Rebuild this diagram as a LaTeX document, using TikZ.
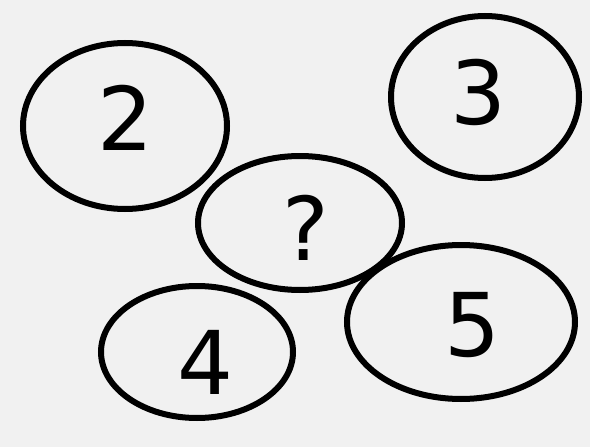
\documentclass[tikz,border=0pt]{standalone}
\usepackage{fontspec}
\setmainfont{DejaVu Sans}
\definecolor{bg}{HTML}{F1F1F1}
\begin{document}
\begin{tikzpicture}[x=1pt,y=-1pt,
  bubble/.style={draw=black,line width=6pt,line cap=round},
  digit/.style={font=\fontsize{88}{88}\selectfont}]
\fill[bg] (0,0) rectangle (590,447);
\useasboundingbox (0,0) rectangle (590,447);
\draw[bubble] (125,126) ellipse [x radius=102,y radius=83];
\draw[bubble] (485,97) ellipse [x radius=94,y radius=81];
\draw[bubble] (300,223) ellipse [x radius=102,y radius=67];
\draw[bubble] (197,352) ellipse [x radius=96,y radius=66];
\draw[bubble] (461,322) ellipse [x radius=114,y radius=77];
\node[digit] (n2) at (125,118) {2};
\node[digit] (n3) at (478,92) {3};
\node[digit] (nq) at (306,228) {?};
\node[digit] (n4) at (205,362) {4};
\node[digit] (n5) at (472,325) {5};
\end{tikzpicture}
\end{document}
